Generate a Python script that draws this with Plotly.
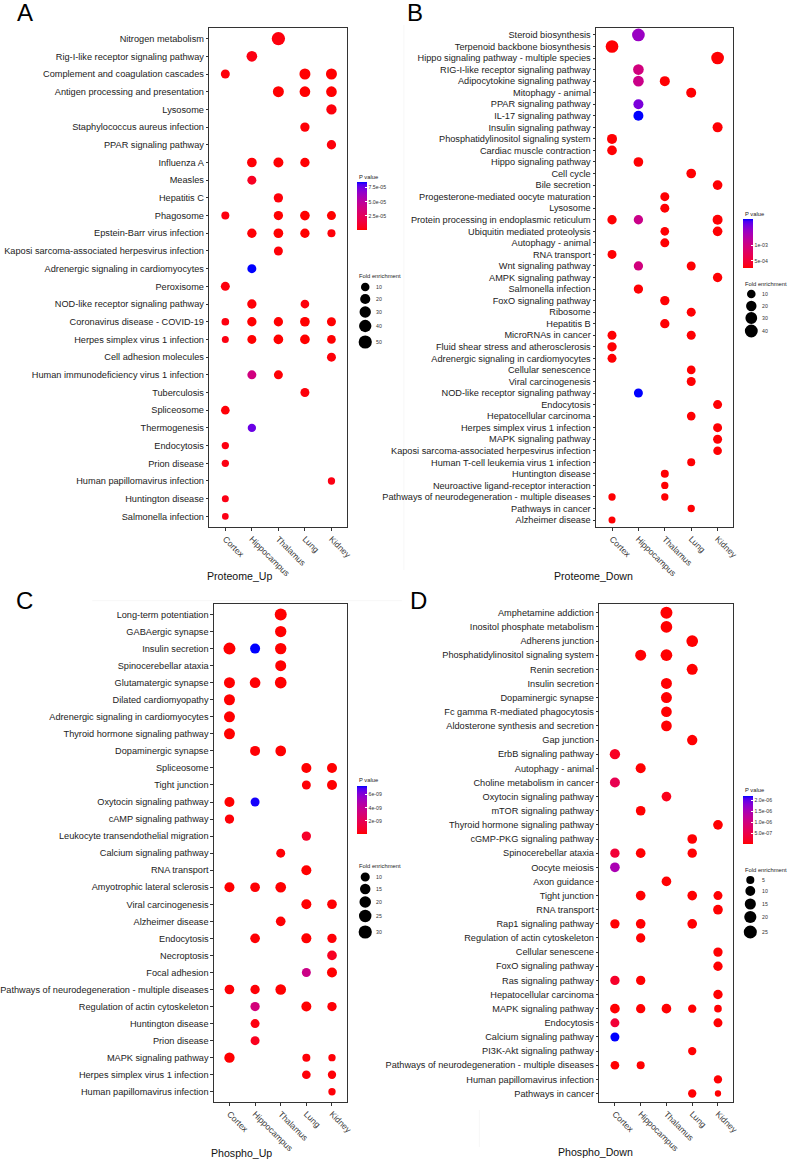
import numpy as np
import plotly.graph_objects as go

W, H = 797, 1162
TISSUES = ["Cortex", "Hippocampus", "Thalamus", "Lung", "Kidney"]

# ---------------- Panel A : Proteome_Up ----------------
A_pathways = ["Nitrogen metabolism", "Rig-I-like receptor signaling pathway", "Complement and coagulation cascades",
              "Antigen processing and presentation", "Lysosome", "Staphylococcus aureus infection",
              "PPAR signaling pathway", "Influenza A", "Measles", "Hepatitis C", "Phagosome",
              "Epstein-Barr virus infection", "Kaposi sarcoma-associated herpesvirus infection",
              "Adrenergic signaling in cardiomyocytes", "Peroxisome", "NOD-like receptor signaling pathway",
              "Coronavirus disease - COVID-19", "Herpes simplex virus 1 infection", "Cell adhesion molecules",
              "Human immunodeficiency virus 1 infection", "Tuberculosis", "Spliceosome", "Thermogenesis",
              "Endocytosis", "Prion disease", "Human papillomavirus infection", "Huntington disease",
              "Salmonella infection"]
A_term = ["Nitrogen metabolism", "Rig-I-like receptor signaling pathway",
          "Complement and coagulation cascades", "Complement and coagulation cascades", "Complement and coagulation cascades",
          "Antigen processing and presentation", "Antigen processing and presentation", "Antigen processing and presentation",
          "Lysosome", "Staphylococcus aureus infection", "PPAR signaling pathway",
          "Influenza A", "Influenza A", "Influenza A", "Measles", "Hepatitis C",
          "Phagosome", "Phagosome", "Phagosome", "Phagosome",
          "Epstein-Barr virus infection", "Epstein-Barr virus infection", "Epstein-Barr virus infection", "Epstein-Barr virus infection",
          "Kaposi sarcoma-associated herpesvirus infection", "Adrenergic signaling in cardiomyocytes", "Peroxisome",
          "NOD-like receptor signaling pathway", "NOD-like receptor signaling pathway",
          "Coronavirus disease - COVID-19", "Coronavirus disease - COVID-19", "Coronavirus disease - COVID-19",
          "Coronavirus disease - COVID-19", "Coronavirus disease - COVID-19",
          "Herpes simplex virus 1 infection", "Herpes simplex virus 1 infection", "Herpes simplex virus 1 infection",
          "Herpes simplex virus 1 infection", "Herpes simplex virus 1 infection",
          "Cell adhesion molecules", "Human immunodeficiency virus 1 infection", "Human immunodeficiency virus 1 infection",
          "Tuberculosis", "Spliceosome", "Thermogenesis", "Endocytosis", "Prion disease",
          "Human papillomavirus infection", "Huntington disease", "Salmonella infection"]
A_tissue = ["Thalamus", "Hippocampus",
            "Cortex", "Lung", "Kidney",
            "Thalamus", "Lung", "Kidney",
            "Kidney", "Lung", "Kidney",
            "Hippocampus", "Thalamus", "Lung", "Hippocampus", "Thalamus",
            "Cortex", "Thalamus", "Lung", "Kidney",
            "Hippocampus", "Thalamus", "Lung", "Kidney",
            "Thalamus", "Hippocampus", "Cortex",
            "Hippocampus", "Lung",
            "Cortex", "Hippocampus", "Thalamus", "Lung", "Kidney",
            "Cortex", "Hippocampus", "Thalamus", "Lung", "Kidney",
            "Kidney", "Hippocampus", "Thalamus",
            "Lung", "Cortex", "Hippocampus", "Cortex", "Cortex",
            "Kidney", "Cortex", "Cortex"]
A_fold = [51.0, 24.0,
          12.4, 26.8, 26.8,
          26.8, 24.0, 24.0,
          21.3, 14.4, 14.4,
          16.6, 18.8, 14.4, 12.4, 14.4,
          7.6, 14.4, 16.6, 12.4,
          14.4, 16.6, 14.4, 7.6,
          12.4, 12.4, 12.4,
          14.4, 10.7,
          6.3, 14.4, 14.4, 16.6, 12.4,
          4.2, 12.4, 16.6, 16.6, 10.7,
          12.4, 12.4, 12.4,
          12.4, 10.7, 9.0, 5.1, 5.1,
          5.1, 4.2, 3.4]
A_p = [2.1e-6, 3.0e-6,
       1.5e-6, 1e-7, 1e-7,
       2e-7, 1e-7, 1e-7,
       2.0e-6, 1.2e-6, 1.8e-6,
       1.0e-6, 5e-7, 4e-7, 6.5e-6, 1.5e-6,
       2.5e-6, 3e-7, 1e-8, 2e-7,
       8e-7, 1e-7, 1e-8, 1.5e-6,
       1.2e-6, 8.5e-5, 2.2e-6,
       1.1e-6, 2.0e-6,
       2.4e-6, 2e-7, 1e-7, 1e-8, 3e-7,
       2.8e-6, 1e-7, 1e-8, 1e-8, 4e-7,
       1.4e-6, 3.9e-5, 9e-7,
       1.6e-6, 1.2e-6, 7.6e-5, 2.6e-6, 2.9e-6,
       3.1e-6, 3.3e-6, 3.5e-6]
A_size_breaks = [10, 20, 30, 40, 50]
A_p_ticks = [2.5e-5, 5.0e-5, 7.5e-5]
A_p_ticktext = ["2.5e-05", "5.0e-05", "7.5e-05"]

# ---------------- Panel B : Proteome_Down ----------------
B_pathways = ["Steroid biosynthesis", "Terpenoid backbone biosynthesis", "Hippo signaling pathway - multiple species",
              "RIG-I-like receptor signaling pathway", "Adipocytokine signaling pathway", "Mitophagy - animal",
              "PPAR signaling pathway", "IL-17 signaling pathway", "Insulin signaling pathway",
              "Phosphatidylinositol signaling system", "Cardiac muscle contraction", "Hippo signaling pathway",
              "Cell cycle", "Bile secretion", "Progesterone-mediated oocyte maturation", "Lysosome",
              "Protein processing in endoplasmic reticulum", "Ubiquitin mediated proteolysis", "Autophagy - animal",
              "RNA transport", "Wnt signaling pathway", "AMPK signaling pathway", "Salmonella infection",
              "FoxO signaling pathway", "Ribosome", "Hepatitis B", "MicroRNAs in cancer",
              "Fluid shear stress and atherosclerosis", "Adrenergic signaling in cardiomyocytes",
              "Cellular senescence", "Viral carcinogenesis", "NOD-like receptor signaling pathway", "Endocytosis",
              "Hepatocellular carcinoma", "Herpes simplex virus 1 infection", "MAPK signaling pathway",
              "Kaposi sarcoma-associated herpesvirus infection", "Human T-cell leukemia virus 1 infection",
              "Huntington disease", "Neuroactive ligand-receptor interaction",
              "Pathways of neurodegeneration - multiple diseases", "Pathways in cancer", "Alzheimer disease"]
B_term = ["Steroid biosynthesis", "Terpenoid backbone biosynthesis", "Hippo signaling pathway - multiple species",
          "RIG-I-like receptor signaling pathway", "Adipocytokine signaling pathway", "Adipocytokine signaling pathway",
          "Mitophagy - animal", "PPAR signaling pathway", "IL-17 signaling pathway", "Insulin signaling pathway",
          "Phosphatidylinositol signaling system", "Cardiac muscle contraction", "Hippo signaling pathway",
          "Cell cycle", "Bile secretion", "Progesterone-mediated oocyte maturation", "Lysosome",
          "Protein processing in endoplasmic reticulum", "Protein processing in endoplasmic reticulum",
          "Protein processing in endoplasmic reticulum",
          "Ubiquitin mediated proteolysis", "Ubiquitin mediated proteolysis", "Autophagy - animal", "RNA transport",
          "Wnt signaling pathway", "Wnt signaling pathway", "AMPK signaling pathway", "Salmonella infection",
          "FoxO signaling pathway", "Ribosome", "Hepatitis B", "MicroRNAs in cancer", "MicroRNAs in cancer",
          "Fluid shear stress and atherosclerosis", "Adrenergic signaling in cardiomyocytes",
          "Cellular senescence", "Viral carcinogenesis", "NOD-like receptor signaling pathway", "Endocytosis",
          "Hepatocellular carcinoma", "Herpes simplex virus 1 infection", "MAPK signaling pathway",
          "Kaposi sarcoma-associated herpesvirus infection", "Human T-cell leukemia virus 1 infection",
          "Huntington disease", "Neuroactive ligand-receptor interaction",
          "Pathways of neurodegeneration - multiple diseases", "Pathways of neurodegeneration - multiple diseases",
          "Pathways in cancer", "Alzheimer disease"]
B_tissue = ["Hippocampus", "Cortex", "Kidney",
            "Hippocampus", "Hippocampus", "Thalamus",
            "Lung", "Hippocampus", "Hippocampus", "Kidney",
            "Cortex", "Cortex", "Hippocampus",
            "Lung", "Kidney", "Thalamus", "Thalamus",
            "Cortex", "Hippocampus", "Kidney",
            "Thalamus", "Kidney", "Thalamus", "Cortex",
            "Hippocampus", "Lung", "Kidney", "Hippocampus",
            "Thalamus", "Lung", "Thalamus", "Cortex", "Lung",
            "Cortex", "Cortex",
            "Lung", "Lung", "Hippocampus", "Kidney",
            "Lung", "Kidney", "Kidney",
            "Kidney", "Lung",
            "Thalamus", "Thalamus",
            "Cortex", "Thalamus",
            "Lung", "Cortex"]
B_fold = [37.8, 37.8, 37.8,
          21.5, 21.5, 17.1,
          17.1, 17.1, 17.1, 17.1,
          17.1, 15.2, 15.2,
          15.2, 15.2, 11.8, 11.8,
          13.4, 13.4, 17.1,
          10.3, 15.2, 11.8, 11.8,
          13.4, 11.8, 13.4, 13.4,
          13.4, 11.8, 13.4, 11.8, 11.8,
          13.4, 11.8,
          10.3, 11.8, 11.8, 11.8,
          10.3, 11.8, 11.8,
          10.3, 7.7,
          7.7, 5.6,
          5.6, 5.6,
          5.6, 4.9]
B_p = [1.44e-3, 2.8e-4, 2.8e-4,
       9.7e-4, 1.05e-3, 2.8e-4,
       2.8e-4, 1.6e-3, 1.83e-3, 2.8e-4,
       2.8e-4, 2.8e-4, 2.8e-4,
       2.8e-4, 2.8e-4, 2.8e-4, 2.8e-4,
       2.8e-4, 1.05e-3, 2.8e-4,
       2.8e-4, 2.8e-4, 2.8e-4, 2.8e-4,
       9.7e-4, 2.8e-4, 2.8e-4, 2.8e-4,
       2.8e-4, 2.8e-4, 2.8e-4, 2.8e-4, 2.8e-4,
       2.8e-4, 2.8e-4,
       2.8e-4, 2.8e-4, 1.83e-3, 2.8e-4,
       2.8e-4, 2.8e-4, 2.8e-4,
       2.8e-4, 2.8e-4,
       2.8e-4, 2.8e-4,
       2.8e-4, 2.8e-4,
       2.8e-4, 2.8e-4]
B_size_breaks = [10, 20, 30, 40]
B_p_ticks = [5e-4, 1e-3]
B_p_ticktext = ["5e-04", "1e-03"]

# ---------------- Panel C : Phospho_Up ----------------
C_pathways = ["Long-term potentiation", "GABAergic synapse", "Insulin secretion", "Spinocerebellar ataxia",
              "Glutamatergic synapse", "Dilated cardiomyopathy", "Adrenergic signaling in cardiomyocytes",
              "Thyroid hormone signaling pathway", "Dopaminergic synapse", "Spliceosome", "Tight junction",
              "Oxytocin signaling pathway", "cAMP signaling pathway", "Leukocyte transendothelial migration",
              "Calcium signaling pathway", "RNA transport", "Amyotrophic lateral sclerosis", "Viral carcinogenesis",
              "Alzheimer disease", "Endocytosis", "Necroptosis", "Focal adhesion",
              "Pathways of neurodegeneration - multiple diseases", "Regulation of actin cytoskeleton",
              "Huntington disease", "Prion disease", "MAPK signaling pathway", "Herpes simplex virus 1 infection",
              "Human papillomavirus infection"]
C_term = ["Long-term potentiation", "GABAergic synapse",
          "Insulin secretion", "Insulin secretion", "Insulin secretion",
          "Spinocerebellar ataxia",
          "Glutamatergic synapse", "Glutamatergic synapse", "Glutamatergic synapse",
          "Dilated cardiomyopathy", "Adrenergic signaling in cardiomyocytes", "Thyroid hormone signaling pathway",
          "Dopaminergic synapse", "Dopaminergic synapse", "Spliceosome", "Spliceosome",
          "Tight junction", "Tight junction", "Oxytocin signaling pathway", "Oxytocin signaling pathway",
          "cAMP signaling pathway", "Leukocyte transendothelial migration", "Calcium signaling pathway",
          "RNA transport",
          "Amyotrophic lateral sclerosis", "Amyotrophic lateral sclerosis", "Amyotrophic lateral sclerosis",
          "Viral carcinogenesis", "Viral carcinogenesis", "Alzheimer disease",
          "Endocytosis", "Endocytosis", "Endocytosis", "Necroptosis", "Focal adhesion", "Focal adhesion",
          "Pathways of neurodegeneration - multiple diseases", "Pathways of neurodegeneration - multiple diseases",
          "Pathways of neurodegeneration - multiple diseases",
          "Regulation of actin cytoskeleton", "Regulation of actin cytoskeleton", "Regulation of actin cytoskeleton",
          "Huntington disease", "Prion disease",
          "MAPK signaling pathway", "MAPK signaling pathway", "MAPK signaling pathway",
          "Herpes simplex virus 1 infection", "Herpes simplex virus 1 infection",
          "Human papillomavirus infection"]
C_tissue = ["Thalamus", "Thalamus",
            "Cortex", "Hippocampus", "Thalamus",
            "Thalamus",
            "Cortex", "Hippocampus", "Thalamus",
            "Cortex", "Cortex", "Cortex",
            "Hippocampus", "Thalamus", "Lung", "Kidney",
            "Lung", "Kidney", "Cortex", "Hippocampus",
            "Cortex", "Lung", "Thalamus",
            "Lung",
            "Cortex", "Hippocampus", "Thalamus",
            "Lung", "Kidney", "Thalamus",
            "Hippocampus", "Lung", "Kidney", "Kidney", "Lung", "Kidney",
            "Cortex", "Hippocampus", "Thalamus",
            "Hippocampus", "Lung", "Kidney",
            "Hippocampus", "Hippocampus",
            "Cortex", "Lung", "Kidney",
            "Lung", "Kidney",
            "Kidney"]
C_fold = [22.5, 19.0,
          22.5, 13.1, 19.0,
          17.4,
          17.4, 15.9, 20.7,
          17.4, 17.4, 17.4,
          13.1, 15.9, 13.1, 13.1,
          9.6, 13.1, 13.1, 9.6,
          10.7, 10.7, 9.6,
          13.1,
          13.1, 11.9, 15.9,
          13.1, 11.9, 11.9,
          11.9, 13.1, 10.7, 11.9, 9.6, 13.1,
          11.9, 10.7, 15.9,
          10.7, 13.1, 10.7,
          9.6, 9.6,
          14.4, 7.0, 5.7,
          8.7, 7.8,
          5.7]
C_p = [2e-11, 2e-11,
       2e-11, 7.3e-9, 2e-11,
       2e-11,
       2e-11, 5e-11, 2e-11,
       2e-11, 2e-11, 2e-11,
       5e-11, 2e-11, 2e-11, 2e-11,
       1e-10, 2e-11, 2e-11, 7.2e-9,
       1e-10, 7e-10, 1e-10,
       2e-11,
       2e-11, 5e-11, 2e-11,
       2e-11, 5e-11, 5e-11,
       5e-11, 2e-11, 1e-10, 5.5e-10, 3.6e-9, 2e-11,
       5e-11, 1e-10, 2e-11,
       3.2e-9, 2e-11, 1e-10,
       2e-10, 4.5e-10,
       2e-11, 1e-10, 1e-10,
       1e-10, 1e-10,
       1e-10]
C_size_breaks = [10, 15, 20, 25, 30]
C_p_ticks = [2e-9, 4e-9, 6e-9]
C_p_ticktext = ["2e-09", "4e-09", "6e-09"]

# ---------------- Panel D : Phospho_Down ----------------
D_pathways = ["Amphetamine addiction", "Inositol phosphate metabolism", "Adherens junction",
              "Phosphatidylinositol signaling system", "Renin secretion", "Insulin secretion", "Dopaminergic synapse",
              "Fc gamma R-mediated phagocytosis", "Aldosterone synthesis and secretion", "Gap junction",
              "ErbB signaling pathway", "Autophagy - animal", "Choline metabolism in cancer",
              "Oxytocin signaling pathway", "mTOR signaling pathway", "Thyroid hormone signaling pathway",
              "cGMP-PKG signaling pathway", "Spinocerebellar ataxia", "Oocyte meiosis", "Axon guidance",
              "Tight junction", "RNA transport", "Rap1 signaling pathway", "Regulation of actin cytoskeleton",
              "Cellular senescene", "FoxO signaling pathway", "Ras signaling pathway", "Hepatocellular carcinoma",
              "MAPK signaling pathway", "Endocytosis", "Calcium signaling pathway", "PI3K-Akt signaling pathway",
              "Pathways of neurodegeneration - multiple diseases", "Human papillomavirus infection",
              "Pathways in cancer"]
D_term = ["Amphetamine addiction", "Inositol phosphate metabolism", "Adherens junction",
          "Phosphatidylinositol signaling system", "Phosphatidylinositol signaling system",
          "Renin secretion", "Insulin secretion", "Dopaminergic synapse", "Fc gamma R-mediated phagocytosis",
          "Aldosterone synthesis and secretion", "Gap junction", "ErbB signaling pathway", "Autophagy - animal",
          "Choline metabolism in cancer", "Oxytocin signaling pathway", "mTOR signaling pathway",
          "Thyroid hormone signaling pathway", "cGMP-PKG signaling pathway",
          "Spinocerebellar ataxia", "Spinocerebellar ataxia", "Spinocerebellar ataxia",
          "Oocyte meiosis", "Axon guidance",
          "Tight junction", "Tight junction", "Tight junction", "RNA transport",
          "Rap1 signaling pathway", "Rap1 signaling pathway", "Rap1 signaling pathway",
          "Regulation of actin cytoskeleton", "Cellular senescene", "FoxO signaling pathway",
          "Ras signaling pathway", "Ras signaling pathway", "Hepatocellular carcinoma",
          "MAPK signaling pathway", "MAPK signaling pathway", "MAPK signaling pathway", "MAPK signaling pathway",
          "MAPK signaling pathway",
          "Endocytosis", "Endocytosis", "Calcium signaling pathway", "PI3K-Akt signaling pathway",
          "Pathways of neurodegeneration - multiple diseases", "Pathways of neurodegeneration - multiple diseases",
          "Human papillomavirus infection", "Pathways in cancer", "Pathways in cancer"]
D_tissue = ["Thalamus", "Thalamus", "Lung",
            "Hippocampus", "Thalamus",
            "Lung", "Thalamus", "Thalamus", "Thalamus",
            "Thalamus", "Lung", "Cortex", "Hippocampus",
            "Cortex", "Thalamus", "Hippocampus",
            "Kidney", "Lung",
            "Cortex", "Hippocampus", "Lung",
            "Cortex", "Thalamus",
            "Hippocampus", "Lung", "Kidney", "Kidney",
            "Cortex", "Hippocampus", "Lung",
            "Hippocampus", "Kidney", "Kidney",
            "Cortex", "Hippocampus", "Kidney",
            "Cortex", "Hippocampus", "Thalamus", "Lung", "Kidney",
            "Cortex", "Kidney", "Cortex", "Lung",
            "Cortex", "Hippocampus",
            "Kidney", "Lung", "Kidney"]
D_fold = [19.1, 17.5, 17.5,
          14.4, 17.5,
          14.4, 14.4, 14.4, 13.0,
          13.0, 11.7, 11.7, 10.4,
          10.4, 9.3, 9.3,
          9.3, 9.3,
          8.2, 9.3, 8.2,
          9.3, 9.3,
          9.3, 9.3, 7.2, 9.3,
          8.2, 9.3, 9.3,
          8.2, 8.2, 8.2,
          8.2, 8.2, 8.2,
          9.3, 8.2, 9.3, 5.5, 4.1,
          7.2, 7.2, 7.2, 5.5,
          6.3, 4.8,
          5.5, 5.5, 2.4]
D_p = [5e-9, 5e-9, 5e-9,
       1e-8, 5e-9,
       5e-9, 5e-9, 1e-8, 1e-8,
       1e-8, 1e-8, 1.7e-7, 1e-8,
       5.5e-7, 1.1e-7, 1e-8,
       1e-8, 1e-8,
       3.3e-7, 1e-8, 1e-8,
       1.5e-6, 1e-8,
       1e-8, 1e-8, 1e-8, 1e-8,
       1e-8, 1e-8, 1e-8,
       1e-8, 1e-8, 1e-8,
       2.2e-7, 1e-8, 1e-8,
       1e-8, 1e-8, 1e-8, 1e-8, 1e-8,
       3.3e-7, 1e-8, 2.2e-6, 1e-8,
       1e-8, 1e-8,
       1e-8, 1e-8, 1e-8]
D_size_breaks = [5, 10, 15, 20, 25]
D_p_ticks = [5e-7, 1e-6, 1.5e-6, 2e-6]
D_p_ticktext = ["5.0e-07", "1.0e-06", "1.5e-06", "2.0e-06"]


# ---------------- colour scale: red -> blue interpolated in Lab (as ggplot) ----------------
def _rgb_to_lab(rgb):
    def lin(c):
        c = c / 255.0
        return c / 12.92 if c <= 0.04045 else ((c + 0.055) / 1.055) ** 2.4
    R, G, B = (lin(c) for c in rgb)
    X = 0.4124564 * R + 0.3575761 * G + 0.1804375 * B
    Y = 0.2126729 * R + 0.7151522 * G + 0.0721750 * B
    Z = 0.0193339 * R + 0.1191920 * G + 0.9503041 * B
    Xn, Yn, Zn = 0.95047, 1.0, 1.08883
    f = lambda t: t ** (1 / 3) if t > 0.008856 else 7.787 * t + 16 / 116
    fx, fy, fz = f(X / Xn), f(Y / Yn), f(Z / Zn)
    return np.array([116 * fy - 16, 500 * (fx - fy), 200 * (fy - fz)])


def _lab_to_rgb(lab):
    L, a, b = lab
    fy = (L + 16) / 116
    fx = fy + a / 500
    fz = fy - b / 200
    finv = lambda t: t ** 3 if t ** 3 > 0.008856 else (t - 16 / 116) / 7.787
    X, Y, Z = 0.95047 * finv(fx), finv(fy), 1.08883 * finv(fz)
    R = 3.2404542 * X - 1.5371385 * Y - 0.4985314 * Z
    G = -0.9692660 * X + 1.8760108 * Y + 0.0415560 * Z
    B = 0.0556434 * X - 0.2040259 * Y + 1.0572252 * Z
    def gam(c):
        c = min(max(c, 0), 1)
        return 12.92 * c if c <= 0.0031308 else 1.055 * c ** (1 / 2.4) - 0.055
    return tuple(int(round(255 * gam(c))) for c in (R, G, B))


_lo, _hi = _rgb_to_lab((255, 0, 0)), _rgb_to_lab((0, 0, 255))
COLORSCALE = []
for t in np.linspace(0, 1, 21):
    r, g, b = _lab_to_rgb(_lo + (_hi - _lo) * t)
    COLORSCALE.append([float(t), f"rgb({r},{g},{b})"])

FONT = "Liberation Sans, Arial, sans-serif"
DMIN, DMAX = 5.3, 13.4


def diam(v, vmin, vmax):
    v = np.asarray(v, dtype=float)
    return DMIN + (DMAX - DMIN) * np.sqrt(np.clip((v - vmin) / (vmax - vmin), 0, 1))


panels = [
    dict(key="A", pathways=A_pathways, term=A_term, tissue=A_tissue, fold=A_fold, p=A_p,
         box=(211, 28, 350, 527), vr=(2, 52), cr=(0, 8.5e-5), breaks=A_size_breaks,
         pt=A_p_ticks, ptt=A_p_ticktext, title="Proteome_Up", title_xy=(241, 576.5),
         letter_xy=(25, 12.5),
         leg=dict(x=360, ptitle_y=177, bar_top=182, bar_len=48, ftitle_y=276, dot_x=368,
                  dot_y=[287, 299, 312, 326, 342], lab_x=377)),
    dict(key="B", pathways=B_pathways, term=B_term, tissue=B_tissue, fold=B_fold, p=B_p,
         box=(600.7, 28, 739, 527), vr=(3, 45), cr=(2.7e-4, 1.83e-3), breaks=B_size_breaks,
         pt=B_p_ticks, ptt=B_p_ticktext, title="Proteome_Down", title_xy=(597.5, 576.5),
         letter_xy=(418, 13),
         leg=dict(x=748.5, ptitle_y=214, bar_top=219, bar_len=49, ftitle_y=284, dot_x=757,
                  dot_y=[294, 306, 318, 331], lab_x=766)),
    dict(key="C", pathways=C_pathways, term=C_term, tissue=C_tissue, fold=C_fold, p=C_p,
         box=(215.7, 604.3, 350, 1102), vr=(4, 31), cr=(0, 7.3e-9), breaks=C_size_breaks,
         pt=C_p_ticks, ptt=C_p_ticktext, title="Phospho_Up", title_xy=(243.5, 1152.5),
         letter_xy=(25, 600),
         leg=dict(x=360, ptitle_y=780, bar_top=786, bar_len=48, ftitle_y=866, dot_x=368,
                  dot_y=[877, 889, 902, 916, 932], lab_x=377)),
    dict(key="D", pathways=D_pathways, term=D_term, tissue=D_tissue, fold=D_fold, p=D_p,
         box=(604, 604.3, 739, 1102), vr=(2, 27), cr=(0, 2.2e-6), breaks=D_size_breaks,
         pt=D_p_ticks, ptt=D_p_ticktext, title="Phospho_Down", title_xy=(600, 1152),
         letter_xy=(421.5, 600),
         leg=dict(x=748.5, ptitle_y=790, bar_top=796, bar_len=48, ftitle_y=870, dot_x=756,
                  dot_y=[880, 891, 904, 917, 932], lab_x=766)),
]

fig = go.Figure()
layout = dict(width=W, height=H, margin=dict(l=0, r=0, t=0, b=0), paper_bgcolor="white",
              plot_bgcolor="white", showlegend=False, font=dict(family=FONT, color="#222"))
annotations, shapes = [], []

# very faint edges of the pasted sub-figures
for (ax0, ay0, ax1, ay1) in [(93, 600.7, 405, 600.7), (407, 25, 407, 570), (483, 1110, 483, 1147)]:
    shapes.append(dict(type="line", xref="paper", yref="paper", x0=ax0 / W, x1=ax1 / W,
                       y0=1 - ay0 / H, y1=1 - ay1 / H, line=dict(color="#f7f7f7", width=1), layer="below"))

for i, P in enumerate(panels, start=1):
    sfx = "" if i == 1 else str(i)
    x0, y0, x1, y1 = P["box"]
    n = len(P["pathways"])
    ca = "coloraxis" + sfx
    fig.add_trace(go.Scatter(
        x=P["tissue"], y=P["term"], mode="markers", xaxis="x" + sfx, yaxis="y" + sfx,
        marker=dict(size=diam(P["fold"], *P["vr"]), color=P["p"], coloraxis=ca, line=dict(width=0),
                    opacity=1),
        hoverinfo="x+y"))
    axcommon = dict(showline=True, mirror=True, linecolor="#333", linewidth=1.3, ticks="outside",
                    ticklen=2.5, tickwidth=0.8, tickcolor="#333", showgrid=False, zeroline=False,
                    fixedrange=True)
    layout["xaxis" + sfx] = dict(axcommon, domain=[x0 / W, x1 / W], anchor="y" + sfx, type="category",
                                 categoryorder="array", categoryarray=TISSUES, range=[-0.6, 4.6],
                                 tickangle=45, tickfont=dict(size=8.6, color="#3a3a3a", family=FONT))
    layout["yaxis" + sfx] = dict(axcommon, domain=[1 - y1 / H, 1 - y0 / H], anchor="x" + sfx,
                                 type="category", categoryorder="array", categoryarray=P["pathways"],
                                 range=[n - 0.4, -0.6], tickfont=dict(size=9.2, color="#222", family=FONT))
    L = P["leg"]
    layout[ca] = dict(cmin=P["cr"][0], cmax=P["cr"][1], colorscale=COLORSCALE,
                      colorbar=dict(x=L["x"] / W, xanchor="left", y=1 - L["bar_top"] / H, yanchor="top",
                                    len=L["bar_len"], lenmode="pixels", thickness=10, thicknessmode="pixels",
                                    outlinewidth=0, tickvals=P["pt"], ticktext=P["ptt"], ticks="inside",
                                    ticklen=2, tickcolor="white", tickwidth=0.8,
                                    tickfont=dict(size=5.2, color="#333", family=FONT), xpad=0, ypad=0))
    # panel letter
    annotations.append(dict(text=P["key"], x=P["letter_xy"][0] / W, y=1 - P["letter_xy"][1] / H,
                            xref="paper", yref="paper", showarrow=False, xanchor="center", yanchor="middle",
                            font=dict(size=24, color="black", family=FONT)))
    # axis title
    annotations.append(dict(text=P["title"], x=P["title_xy"][0] / W, y=1 - P["title_xy"][1] / H,
                            xref="paper", yref="paper", showarrow=False, xanchor="center", yanchor="middle",
                            font=dict(size=10.6, color="#111", family=FONT)))
    # legend titles
    for txt, yy in (("P value", L["ptitle_y"]), ("Fold enrichment", L["ftitle_y"])):
        annotations.append(dict(text=txt, x=L["x"] / W, y=1 - yy / H, xref="paper", yref="paper",
                                showarrow=False, xanchor="left", yanchor="middle",
                                font=dict(size=5.8, color="#222", family=FONT)))
    # size legend
    ds = diam(P["breaks"], *P["vr"])
    for b, d, yy in zip(P["breaks"], ds, L["dot_y"]):
        shapes.append(dict(type="circle", xref="paper", yref="paper", xsizemode="pixel", ysizemode="pixel",
                           xanchor=L["dot_x"] / W, yanchor=1 - yy / H, x0=-d / 2, x1=d / 2, y0=-d / 2, y1=d / 2,
                           fillcolor="black", line=dict(width=0)))
        annotations.append(dict(text=str(b), x=L["lab_x"] / W, y=1 - yy / H, xref="paper", yref="paper",
                                showarrow=False, xanchor="left", yanchor="middle",
                                font=dict(size=5.2, color="#333", family=FONT)))

layout["annotations"] = annotations
layout["shapes"] = shapes
fig.update_layout(**layout)
fig.write_html("out.html", config={"displayModeBar": False},
               post_script="document.body.style.margin='0';document.body.style.padding='0';")
